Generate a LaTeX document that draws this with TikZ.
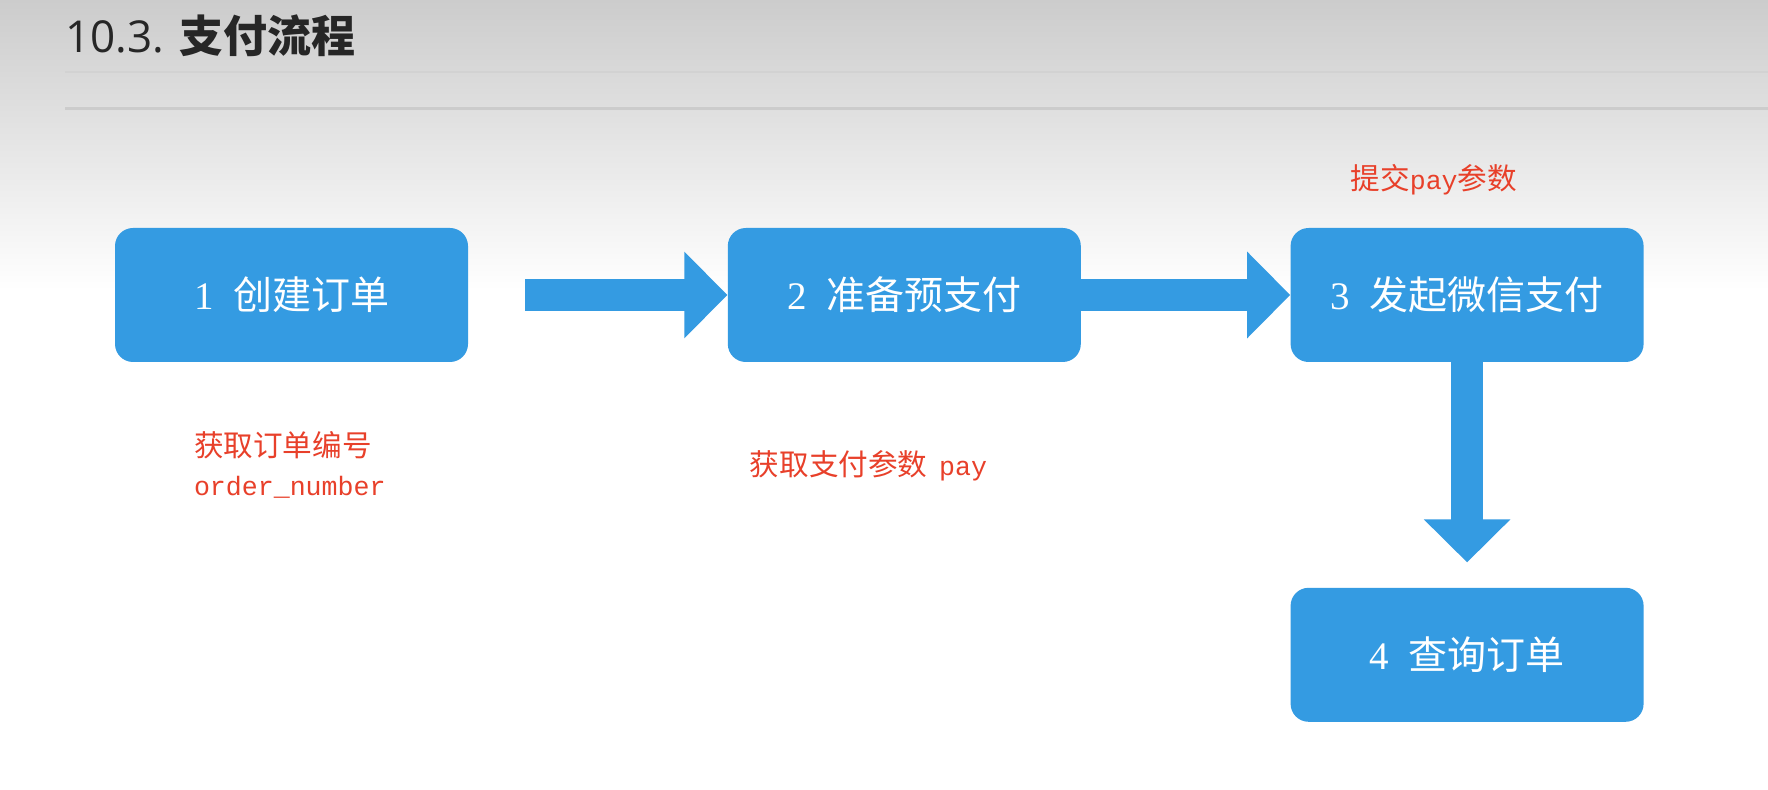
\documentclass[tikz,border=0pt]{standalone}
\usepackage{fontspec}
\setmainfont{Liberation Serif}
\setmonofont{Liberation Mono}
\newfontfamily\cjk{Noto Sans CJK SC}
\newfontfamily\titlefont{Open Sans}
\usetikzlibrary{arrows.meta,positioning}
\definecolor{boxblue}{RGB}{52,155,226}
\definecolor{notered}{RGB}{232,64,42}

\tikzset{
  stepbox/.style={fill=boxblue, rounded corners=9pt, minimum width=176.5pt,
    minimum height=67pt, inner sep=0pt, text=white,
    font=\cjk\fontsize{19.5}{22}\selectfont},
  note/.style={text=notered, inner sep=0pt, align=left,
    font=\cjk\fontsize{14.8}{19.5}\selectfont},
  flow/.style={draw=boxblue, line width=16pt,
    -{Triangle[width=42pt,length=21.5pt]}},
}
\newcommand{\stepno}[1]{{\rmfamily #1}\hspace{0.5em}}

\begin{document}
\begin{tikzpicture}[x=0.5pt, y=-0.5pt]
\useasboundingbox (0,0) rectangle (1768,790);
% page background
\shade[top color=gray!40, bottom color=white] (0,0) rectangle (1768,290);
\fill[white] (0,290) rectangle (1768,790);

% heading
\node[anchor=base west, inner sep=0pt, text=black!85,
  font=\titlefont\fontsize{22}{26}\selectfont] (title) at (65,53)
  {10.3. {\cjk\bfseries 支付流程}};
\coordinate (r1) at (65,72);
\coordinate (r2) at (65,109);
\draw[gray!35, line width=1pt] (r1) -- (r1 -| 1768,0);
\draw[gray!40, line width=1.5pt] (r2) -- (r2 -| 1768,0);

% steps
\node[stepbox] (b1) at (291.5,295) {\stepno{1}创建订单};
\node[stepbox, right=129.5pt of b1] (b2) {\stepno{2}准备预支付};
\node[stepbox, right=104.5pt of b2] (b3) {\stepno{3}发起微信支付};
\node[stepbox, below=112.5pt of b3] (b4) {\stepno{4}查询订单};

% arrows
\coordinate[right=28.5pt of b1.east] (a1);
\coordinate[above=12.5pt of b4.north] (a3);
\draw[flow] (a1) -- (b2.west);
\draw[flow] (b2) -- (b3);
\draw[flow] (b3) -- (a3);

% notes
\node[note, anchor=north west] (n1) at ([xshift=39.5pt, yshift=-34.5pt]b1.south west)
  {获取订单编号\\{\ttfamily\fontsize{13.3}{19.5}\selectfont order\_number}};
\node[note, anchor=west] (n2) at ([xshift=11pt, yshift=-51.5pt]b2.south west)
  {获取支付参数\hspace{0.4em}{\ttfamily\fontsize{13.3}{19.5}\selectfont pay}};
\node[note, anchor=west] (n3) at ([xshift=30pt, yshift=24pt]b3.north west)
  {提交{\ttfamily\fontsize{13.3}{19.5}\selectfont pay}参数};
\end{tikzpicture}
\end{document}
